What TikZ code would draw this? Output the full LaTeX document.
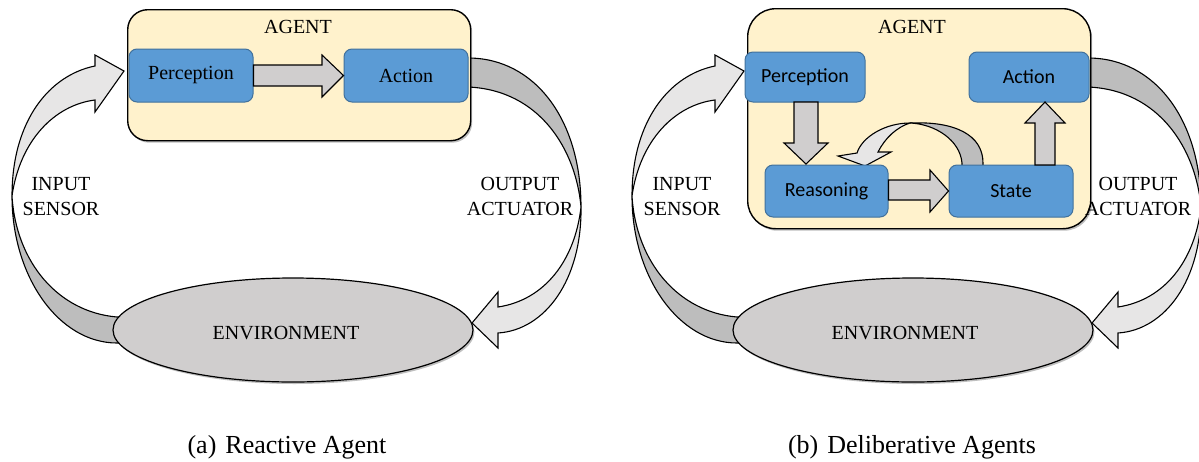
\documentclass[tikz,border=0pt]{standalone}
\usepackage{fontspec}
\setmainfont{Liberation Serif}
\newfontfamily\calibri{Carlito}
\usetikzlibrary{shapes.geometric,shadows}
\definecolor{agentfill}{HTML}{FFF2CC}
\definecolor{bluefill}{HTML}{5B9BD5}
\definecolor{blueline}{HTML}{41719C}
\definecolor{envfill}{HTML}{D0CECE}
\definecolor{arrfill}{HTML}{D0CECE}
\definecolor{lightarr}{HTML}{E7E6E6}
\definecolor{darkarr}{HTML}{BDBDBD}
\tikzset{
  softshadow/.style={drop shadow={shadow xshift=1.5pt, shadow yshift=-2pt, opacity=0.25, fill=black}},
  agentbox/.style={draw=black, line width=1.4pt, fill=agentfill, softshadow, inner sep=0pt, anchor=north west},
  blockbox/.style={draw=blueline, line width=1pt, fill=bluefill, rounded corners=8pt, inner sep=0pt, font=\fontsize{20}{24}\selectfont},
  sansbox/.style={blockbox, font=\calibri\fontsize{20}{24}\selectfont},
  envnode/.style={ellipse, draw=black, line width=1.2pt, fill=envfill, minimum width=360pt, minimum height=104pt, inner sep=0pt, softshadow},
  lbl/.style={font=\fontsize{20}{25}\selectfont, align=center, inner sep=0pt},
  caption/.style={font=\fontsize{26}{30}\selectfont, inner sep=0pt},
  blockarrow/.style={draw=black, line width=1.1pt, fill=arrfill, line join=miter},
  curvelight/.style={draw=black, line width=1.1pt, fill=lightarr, line join=miter},
  curvedark/.style={draw=black, line width=1.1pt, fill=darkarr, line join=miter},
}
\begin{document}
\begin{tikzpicture}[x=1pt,y=-1pt]
\useasboundingbox (0,0) rectangle (1199,461);

% ---------- curved input / output arrows (both panels) ----------
\foreach \dx in {0,620}{
\begin{scope}[xshift=\dx pt]
  % input arrow (environment -> perception)
  \path[curvedark] (140,344) -- (117,343) .. controls (59,343) and (12,277) .. (12,196)
        .. controls (16,262) and (58,312) .. (117,317) -- (140,317) -- cycle;
  \path[curvelight] (12,196) .. controls (12,120) and (50,75) .. (95,66) -- (95,55) -- (124,71)
        -- (95,112) -- (95,100) .. controls (55,105) and (20,140) .. (12,196) -- cycle;
  % output arrow (action -> environment)
  \path[curvedark] (455,58) -- (468,58) .. controls (535,58) and (581,120) .. (581,207)
        .. controls (576,150) and (540,90) .. (468,87) -- (455,87) -- cycle;
  \path[curvelight] (581,207) .. controls (582,280) and (545,330) .. (498,333) -- (498,348)
        -- (472,323) -- (498,292) -- (498,307) .. controls (545,300) and (575,260) .. (581,207) -- cycle;
\end{scope}}

% ---------- panel (a) ----------
\node[agentbox, rounded corners=20pt, minimum width=343pt, minimum height=131pt] (agA) at (127,9) {};
\node[lbl] (agAl) at (298,27) {AGENT};
\node[blockbox, minimum width=124pt, minimum height=53pt] (perA) at (191,75.5) {Perception};
\node[blockbox, minimum width=124pt, minimum height=53pt] (actA) at (406,75.5) {Action};
\path[blockarrow] (perA.east |- 0,65) -- (322,65) -- (322,55) -- (actA.west) -- (322,97) -- (322,86) -- (perA.east |- 0,86) -- cycle;
\node[envnode] (envA) at (293,330) {};
\node[lbl] (envAl) at (286,333) {ENVIRONMENT};
\node[lbl] (inA) at (61,197) {INPUT\\SENSOR};
\node[lbl] (outA) at (520,196) {OUTPUT\\ACTUATOR};
\node[caption] (capA) at (287,447) {(a)\hspace{9pt}Reactive Agent};

% ---------- panel (b) ----------
\node[agentbox, rounded corners=28pt, minimum width=343pt, minimum height=220pt] (agB) at (747,8) {};
\node[lbl] (agBl) at (912,27) {AGENT};
\node[sansbox, minimum width=120pt, minimum height=50pt] (perB) at (805,77) {Perception};
\node[sansbox, minimum width=120pt, minimum height=50pt] (actB) at (1029,77) {Action};
% loop arrow state -> reasoning
\path[curvedark] (962,170) -- (962,163) .. controls (960,140) and (935,124) .. (910,123)
      .. controls (955,121) and (983,135) .. (983,163) -- (983,170) -- cycle;
\path[curvelight] (910,123) .. controls (885,123) and (862,137) .. (857,153) -- (838,156) -- (865,166)
      -- (891,152) -- (878,152) .. controls (885,138) and (897,127) .. (910,123) -- cycle;
\node[sansbox, minimum width=123pt, minimum height=52pt] (reaB) at (826.5,191) {Reasoning};
\node[sansbox, minimum width=124pt, minimum height=52pt] (staB) at (1011,191) {State};
% perception -> reasoning
\path[blockarrow] (794,102) -- (818,102) -- (818,143) -- (828,143) -- (806,164) -- (784,143) -- (794,143) -- cycle;
% reasoning -> state
\path[blockarrow] (reaB.east |- 0,180) -- (930,180) -- (930,170) -- (staB.west) -- (930,212) -- (930,200) -- (reaB.east |- 0,200) -- cycle;
% state -> action
\path[blockarrow] (1035,165) -- (1035,123) -- (1025,123) -- (1045,102) -- (1065,123) -- (1055,123) -- (1055,165) -- cycle;
\node[envnode] (envB) at (913,330) {};
\node[lbl] (envBl) at (905,333) {ENVIRONMENT};
\node[lbl] (inB) at (682,197) {INPUT\\SENSOR};
\node[lbl] (outB) at (1138,196) {OUTPUT\\ACTUATOR};
\node[caption] (capB) at (912,447) {(b)\hspace{9pt}Deliberative Agents};
\end{tikzpicture}
\end{document}
